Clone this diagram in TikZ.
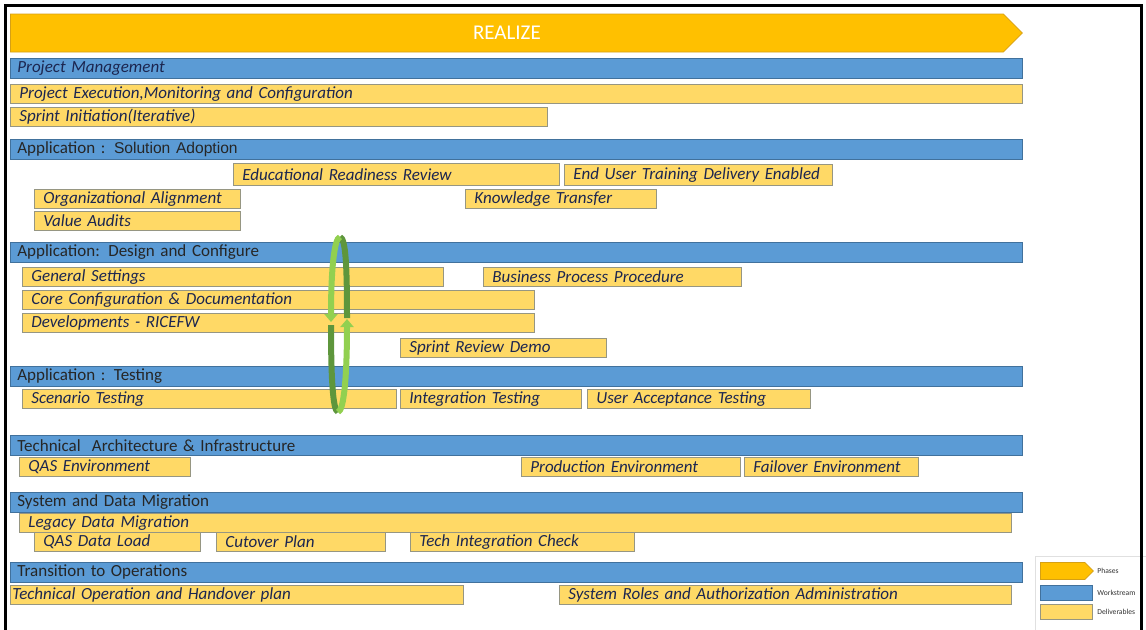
\documentclass[tikz,border=0pt]{standalone}
\usepackage{fontspec}
\setmainfont{Carlito}
\newfontfamily\arialfont{Liberation Sans}
\usetikzlibrary{arrows.meta,shapes.symbols}
\definecolor{phaseorange}{RGB}{255,192,0}
\definecolor{phaseline}{RGB}{214,160,20}
\definecolor{wsblue}{RGB}{91,155,213}
\definecolor{wsline}{RGB}{65,113,156}
\definecolor{dlvyellow}{RGB}{255,217,102}
\definecolor{dlvline}{RGB}{150,150,130}
\definecolor{dlvtext}{RGB}{28,38,80}
\definecolor{cycdark}{RGB}{94,150,60}
\definecolor{cyclight}{RGB}{146,208,80}

\begin{document}
\begin{tikzpicture}[x=0.5pt,y=-0.5pt,
  ws/.style={draw=wsline,fill=wsblue,anchor=north west,minimum width=506pt,minimum height=10pt,
    inner xsep=3.5pt,inner ysep=0pt,text width=499pt,align=left,
    font=\fontsize{8.5}{9}\selectfont,text=black!85},
  dlv/.style={draw=dlvline,fill=dlvyellow,anchor=north west,minimum height=9.5pt,
    inner xsep=4.5pt,inner ysep=0pt,/utils/exec={\pgfmathsetlengthmacro\dlvw{#1*0.5pt-9pt}},
    text width=\dlvw,align=left,font=\fontsize{8.5}{9}\selectfont\itshape,text=dlvtext},
  phasebox/.style={signal,signal to=east,signal pointer angle=90,draw=phaseline,fill=phaseorange,inner sep=0pt,anchor=west},
  cyc/.style={line width=3pt,line cap=butt},
  key/.style={font=\fontsize{3.8}{4}\selectfont,anchor=west,inner sep=0pt,text=black!80}]
\useasboundingbox (0,0) rectangle (1146,629);

% phase
\node[phasebox,minimum width=506pt,minimum height=19pt,text=white,font=\fontsize{10.5}{12}\selectfont] (phase) at (10,33) {REALIZE};

% project management
\node[ws,font=\fontsize{8.5}{9}\selectfont\itshape,text=dlvtext] (pm) at (10,58) {Project Management};
\node[dlv=1012] (pexec) at (10,84) {Project Execution,Monitoring and Configuration};
\node[dlv=537] (sprinit) at (10,107) {Sprint Initiation(Iterative)};

% solution adoption
\node[ws] (sa) at (10,139) {Application : {\arialfont\fontsize{7.8}{9}\selectfont Solution Adoption}};
\node[dlv=326,minimum height=11pt] (edu) at (233,163) {Educational Readiness Review};
\node[dlv=268,minimum height=10.5pt] (endusr) at (564,164) {End User Training Delivery Enabled};
\node[dlv=206] (orgal) at (34,189) {Organizational Alignment};
\node[dlv=191] (ktrans) at (465,189) {Knowledge Transfer};
\node[dlv=206] (valaud) at (34,211) {Value Audits};

% design and configure
\node[ws] (dc) at (10,242) {Application: Design and Configure};
\node[dlv=421] (gen) at (22,267) {General Settings};
\node[dlv=258] (bpp) at (483,267) {Business Process Procedure};
\node[dlv=512] (core) at (22,290) {Core Configuration \& Documentation};
\node[dlv=512] (dev) at (22,313) {Developments - RICEFW};
\node[dlv=206] (srd) at (400,338) {Sprint Review Demo};

% testing
\node[ws] (tst) at (10,366) {Application : Testing};
\node[dlv=374] (scen) at (22,389) {Scenario Testing};
\node[dlv=181] (integ) at (400,389) {Integration Testing};
\node[dlv=223] (uat) at (587,389) {User Acceptance Testing};

% technical architecture
\node[ws] (ta) at (10,435) {Technical~ Architecture \& Infrastructure};
\node[dlv=171] (qasenv) at (19,457) {QAS Environment};
\node[dlv=219] (prod) at (521,457) {Production Environment};
\node[dlv=174] (fail) at (744,457) {Failover Environment};

% data migration
\node[ws] (sdm) at (10,492) {System and Data Migration};
\node[dlv=992] (legacy) at (19,513) {Legacy Data Migration};
\node[dlv=166] (qasdl) at (34,532) {QAS Data Load};
\node[dlv=169] (cutover) at (216,532) {Cutover Plan};
\node[dlv=224] (techint) at (410,532) {Tech Integration Check};

% transition
\node[ws] (trans) at (10,562) {Transition to Operations};
\node[dlv=467,inner xsep=1pt] (techop) at (10,585) {Technical Operation and Handover plan};
\node[dlv=452] (sysroles) at (559,585) {System Roles and Authorization Administration};

% sprint cycle
\coordinate (upA) at (347,318);
\coordinate (upT) at (340,237);
\coordinate (upB) at (331,322);
\coordinate (loA) at (331,325);
\coordinate (loT) at (338,412);
\coordinate (loB) at (347,319);
\draw[cyc,draw=cycdark] (upA) .. controls (347,270) and (346,238) .. (upT);
\draw[cyc,draw=cyclight,-{Triangle[width=6.5pt,length=4pt]}] (upT) .. controls (334,238) and (331,272) .. (upB);
\draw[cyc,draw=cycdark] (loA) .. controls (331,380) and (333,411) .. (loT);
\draw[cyc,draw=cyclight,-{Triangle[width=6.5pt,length=4pt]}] (loT) .. controls (344,411) and (347,375) .. (loB);

% legend
\node[draw=black!12,fill=white,anchor=north west,minimum width=55.5pt,minimum height=37pt,inner sep=0pt] (legend) at (1035,556) {};
\node[phasebox,minimum width=26.5pt,minimum height=8.5pt] (keyphase) at (1040,571) {};
\node[key] (keyphasetxt) at (1097,571) {Phases};
\node[draw=wsline,fill=wsblue,minimum width=26pt,minimum height=7.5pt,inner sep=0pt,anchor=west] (keyws) at (1040,593) {};
\node[key] (keywstxt) at (1097,593) {Workstream};
\node[draw=dlvline,fill=dlvyellow,minimum width=26pt,minimum height=7.5pt,inner sep=0pt,anchor=west] (keydlv) at (1040,612) {};
\node[key] (keydlvtxt) at (1097,612) {Deliverables};

% frame
\draw[line width=1.5pt] (5,640) -- (5,5) -- (1141,5) -- (1141,640);
\end{tikzpicture}
\end{document}
